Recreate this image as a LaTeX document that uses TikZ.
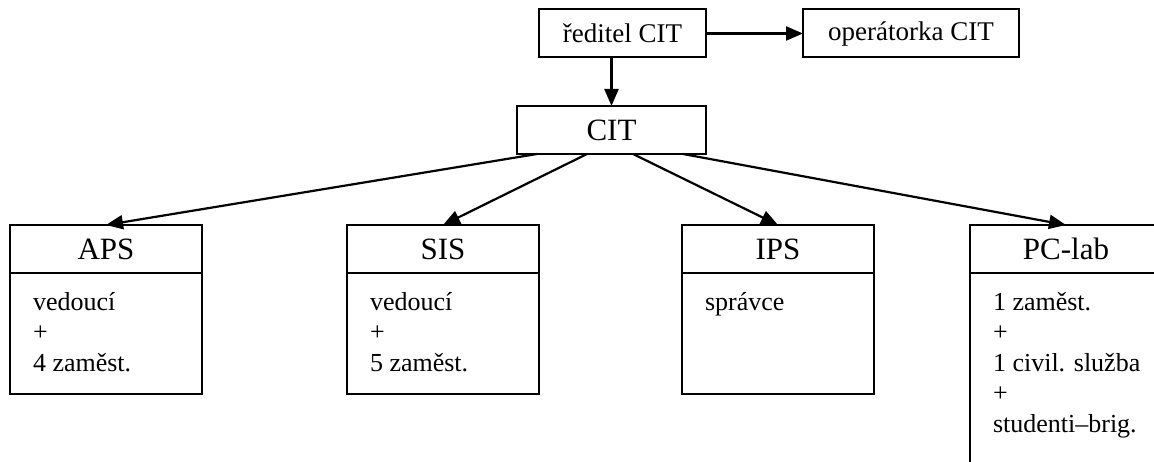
\documentclass[tikz,border=0pt]{standalone}
\usepackage{fontspec}
\setmainfont{Liberation Serif}
\usetikzlibrary{
	positioning,
	arrows.meta
}

\tikzset{
	head/.style={draw, minimum height=48pt, inner sep=0pt, outer sep=0pt,
		font=\fontsize{27}{30}\selectfont},
	unit/.style={draw, minimum width=192pt, minimum height=48pt, inner sep=0pt,
		outer sep=0pt, font=\fontsize{31}{36}\selectfont},
	staff/.style={draw, minimum width=192pt, inner sep=0pt, outer sep=0pt},
	members/.style={anchor=north west, inner sep=0pt, align=left,
		font=\fontsize{26}{30.5}\selectfont},
	link/.style={-{Triangle[length=17pt,width=14pt]}, line width=2.2pt}
}

\begin{document}
\begin{tikzpicture}[x=1pt, y=-1pt, line width=2pt]
		\useasboundingbox (0,0) rectangle (1154,462);
		\clip (0,0) rectangle (1154,462);

		\draw
			node[head,minimum width=167pt] at (622.5,33.5) (dir)  {ředitel CIT}
			node[head,minimum width=216pt] at (911,33.5)   (oper) {operátorka CIT}
			node[unit,minimum width=189pt] at (611.5,130)  (cit)  {CIT}

			node[unit] at (106,249)  (aps) {APS}
			node[unit] at (443,249)  (sis) {SIS}
			node[unit] at (778,249)  (ips) {IPS}
			node[unit] at (1066,249) (pc)  {PC-lab}

			node[staff,minimum height=121pt,below=0pt of aps] (aps staff) {}
			node[staff,minimum height=121pt,below=0pt of sis] (sis staff) {}
			node[staff,minimum height=121pt,below=0pt of ips] (ips staff) {}
			node[staff,minimum height=220pt,below=0pt of pc]  (pc staff)  {}
		;

		\node[members] at ([shift={(22pt,-18pt)}]aps staff.north west) {vedoucí\\+\\4 zaměst.};
		\node[members] at ([shift={(22pt,-18pt)}]sis staff.north west) {vedoucí\\+\\5 zaměst.};
		\node[members] at ([shift={(22pt,-18pt)}]ips staff.north west) {správce};
		\node[members] at ([shift={(22pt,-18pt)}]pc staff.north west)
			{1 zaměst.\\+\\1 civil. služba\\+\\studenti–brig.};

		% spoje
		\draw[link] (dir.east) -- (oper.west);
		\draw[link] (dir.south -| cit.north) -- (cit.north);
		\draw[link] ([xshift=20pt]cit.south west)  -- (aps.north);
		\draw[link] ([xshift=70pt]cit.south west)  -- (sis.north);
		\draw[link] ([xshift=116pt]cit.south west) -- (ips.north);
		\draw[link] ([xshift=166pt]cit.south west) -- (pc.north);
	\end{tikzpicture}
\end{document}
